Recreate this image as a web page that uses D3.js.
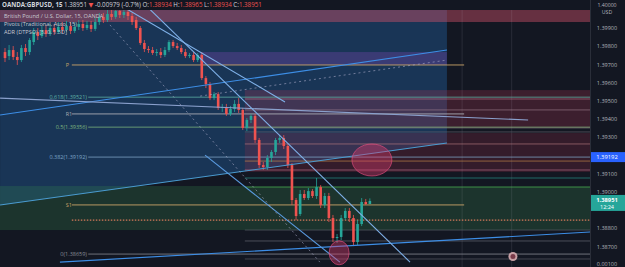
<!DOCTYPE html>
<html>
<meta charset="utf-8">
<script src="https://d3js.org/d3.v7.js"></script>
<style>
  body { margin: 0; background: #131722; }
  text { font-family: "Open Sans", "DejaVu Sans", sans-serif; }
</style>
<body>
<div id="my_dataviz"></div>
<script type="text/javascript">
// GBPUSD 15m candles
var opens = [1.39769,1.39747,1.39780,1.39742,1.39725,1.39791,1.39769,1.39824,1.39879,1.39857,
  1.39890,1.39868,1.39901,1.39879,1.39907,1.39890,1.39912,1.39885,1.39907,1.39923,
  1.39901,1.39918,1.39896,1.39934,1.39962,1.39945,1.39978,1.39962,1.39995,1.39973,
  1.39989,1.39967,1.39945,1.39901,1.39819,1.39786,1.39780,1.39764,1.39769,1.39753,
  1.39780,1.39824,1.39802,1.39791,1.39769,1.39747,1.39753,1.39725,1.39753,1.39626,
  1.39593,1.39516,1.39538,1.39462,1.39467,1.39429,1.39456,1.39484,1.39451,1.39352,
  1.39396,1.39418,1.39286,1.39148,1.39137,1.39187,1.39220,1.39286,1.39297,1.39253,
  1.39148,1.38956,1.38879,1.38989,1.38967,1.39005,1.38978,1.39027,1.38929,1.38978,
  1.38857,1.38747,1.38753,1.38857,1.38896,1.38857,1.38725,1.38824,1.38945,1.38934]
var highs = [1.39791,1.39808,1.39802,1.39769,1.39808,1.39813,1.39846,1.39901,1.39901,1.39912,
  1.39918,1.39923,1.39923,1.39934,1.39934,1.39940,1.39934,1.39929,1.39945,1.39945,
  1.39940,1.39940,1.39956,1.39984,1.39984,1.40000,1.40000,1.40011,1.40016,1.40011,
  1.40005,1.39984,1.39962,1.39912,1.39835,1.39802,1.39797,1.39786,1.39791,1.39797,
  1.39835,1.39835,1.39819,1.39808,1.39786,1.39764,1.39769,1.39764,1.39769,1.39637,
  1.39604,1.39549,1.39549,1.39484,1.39484,1.39473,1.39505,1.39516,1.39462,1.39407,
  1.39429,1.39429,1.39297,1.39165,1.39203,1.39231,1.39297,1.39313,1.39313,1.39264,
  1.39159,1.38967,1.39011,1.39011,1.39022,1.39016,1.39077,1.39038,1.38995,1.38995,
  1.38874,1.38769,1.38874,1.38912,1.38912,1.38874,1.38846,1.38967,1.38962,1.38965]
var lows = [1.39714,1.39725,1.39725,1.39698,1.39714,1.39747,1.39753,1.39808,1.39835,1.39846,
  1.39852,1.39857,1.39863,1.39868,1.39874,1.39879,1.39868,1.39874,1.39890,1.39885,
  1.39890,1.39879,1.39885,1.39918,1.39929,1.39934,1.39945,1.39951,1.39956,1.39956,
  1.39945,1.39918,1.39890,1.39808,1.39769,1.39764,1.39753,1.39747,1.39736,1.39742,
  1.39769,1.39791,1.39780,1.39758,1.39736,1.39736,1.39714,1.39714,1.39615,1.39571,
  1.39505,1.39505,1.39451,1.39440,1.39418,1.39418,1.39440,1.39434,1.39341,1.39335,
  1.39379,1.39269,1.39132,1.39121,1.39121,1.39165,1.39203,1.39269,1.39236,1.39132,
  1.38929,1.38846,1.38868,1.38956,1.38956,1.38967,1.38962,1.38912,1.38912,1.38835,
  1.38725,1.38720,1.38736,1.38846,1.38835,1.38703,1.38709,1.38813,1.38929,1.38934]
var closes = [1.39736,1.39780,1.39742,1.39725,1.39791,1.39769,1.39835,1.39879,1.39857,1.39890,
  1.39868,1.39901,1.39879,1.39907,1.39890,1.39912,1.39885,1.39907,1.39923,1.39901,
  1.39918,1.39896,1.39934,1.39962,1.39945,1.39978,1.39962,1.39995,1.39973,1.39989,
  1.39967,1.39934,1.39901,1.39819,1.39786,1.39780,1.39764,1.39769,1.39753,1.39780,
  1.39824,1.39802,1.39791,1.39769,1.39747,1.39753,1.39725,1.39753,1.39626,1.39593,
  1.39516,1.39538,1.39462,1.39467,1.39429,1.39456,1.39484,1.39451,1.39352,1.39396,
  1.39418,1.39286,1.39148,1.39137,1.39187,1.39220,1.39286,1.39297,1.39253,1.39148,
  1.38956,1.38868,1.38989,1.38967,1.39005,1.38978,1.39027,1.38929,1.38978,1.38857,
  1.38747,1.38753,1.38857,1.38896,1.38857,1.38725,1.38824,1.38945,1.38934,1.38951]

// price axis (1.389 and 1.392 sit under the price tags)
var priceTicks = [1.387,1.388,1.390,1.391,1.393,1.394,1.395,1.396,1.397,1.398,1.399]

// fib retracement
var fibLow = 1.38659, fibHigh = 1.40054
var fibRatios = [0.618, 0.5, 0.382, 0]

// pivots
var pivotNames = ["P", "R1", "S1"]
var pivotPrices = [1.39698, 1.39429, 1.38929]

// zones [idxFrom, idxTo, priceTop, priceBottom]
var zones = [
  [-2, 143, 1.40000, 1.39934],
  [47.6, 107.8, 1.39769, 1.39698],
  [58.5, 143, 1.39560, 1.39352],
  [58.5, 143, 1.39324, 1.39110],
  [-2, 143, 1.39033, 1.38791]
]
var zoneColors = ["rgba(205,80,105,0.45)", "rgba(130,70,180,0.32)", "rgba(170,55,80,0.28)", "rgba(150,45,70,0.25)", "rgba(55,140,80,0.25)"]

// other horizontal levels (right side)
var levelPrices = [1.39511, 1.39451, 1.39352, 1.39330, 1.39264, 1.39170, 1.39121, 1.39077, 1.39027, 1.38791, 1.38731, 1.38632]
var levelColors = ["#b87086","#9a7d8c","#8a7480","#6d6470","#b87a80","#c98a4a","#b8708a","#2a9d8f","#4caf50","#5d606b","#6b6e78","#5d606b"]

// trend lines [i0, p0, i1, p1]
var trendLines = [
  [-1.2, 1.39423, 107.8, 1.39780],
  [-1.2, 1.39516, 127.6, 1.39396],
  [-1.2, 1.38929, 107.8, 1.39269],
  [13.4, 1.38615, 142.7, 1.38780],
  [29.3, 1.40011, 68.3, 1.39495],
  [33, 1.40055, 98.8, 1.38615],
  [48.8, 1.39203, 81.7, 1.38615]
]
var trendColors = ["#3d8ee6", "#8aa0cc", "#4a9bd0", "#3d8ee6", "#7fb0e8", "#7fb0e8", "#5a9be0"]
var dashedLines = [
  [47.6, 1.39527, 107.8, 1.39725],
  [25.6, 1.39918, 76.8, 1.38615]
]

var width = 625, height = 267, plotRight = 590, plotTop = 10

var svg = d3.select("#my_dataviz").append("svg")
  .attr("width", width).attr("height", height)

var x = d3.scaleLinear().domain([0, 142.7]).range([5, 590])
var y = d3.scaleLinear().domain([1.38588, 1.40055]).range([267, 0])

svg.append("rect").attr("width", width).attr("height", height).attr("fill", "#131722")

svg.append("clipPath").attr("id", "plot")
  .append("rect").attr("x", 0).attr("y", plotTop).attr("width", plotRight).attr("height", height - plotTop)

var g = svg.append("g").attr("clip-path", "url(#plot)")

// blue channel fill
var chBottom = trendLines[2]
g.append("path")
  .attr("d", d3.line()([
    [x(chBottom[0]), y(1.40055)], [x(chBottom[2]), y(1.40055)],
    [x(chBottom[2]), y(chBottom[3])], [x(chBottom[0]), y(chBottom[1])]
  ]))
  .attr("fill", "rgba(35,100,165,0.4)")

g.selectAll(".zone").data(zones).enter().append("rect")
  .attr("x", d => x(d[0]))
  .attr("y", d => y(d[2]))
  .attr("width", d => x(d[1]) - x(d[0]))
  .attr("height", d => y(d[3]) - y(d[2]))
  .attr("fill", (d, i) => zoneColors[i])

// session separators
g.selectAll(".vsep").data([111.5, 123.6]).enter().append("line")
  .attr("x1", d => x(d)).attr("x2", d => x(d))
  .attr("y1", plotTop).attr("y2", height)
  .attr("stroke", "rgba(200,200,210,0.12)")

g.selectAll(".lvl").data(levelPrices).enter().append("line")
  .attr("x1", x(58.5)).attr("x2", plotRight)
  .attr("y1", d => y(d)).attr("y2", d => y(d))
  .attr("stroke", (d, i) => levelColors[i])
  .attr("stroke-width", 0.8)
  .attr("opacity", 0.8)

// fib levels
var fibColors = ["#5fb3a6", "#7fb87f", "#7fa6c8", "#8a8d96"]
fibRatios.forEach(function(r, i) {
  var p = fibLow + r * (fibHigh - fibLow)
  g.append("line")
    .attr("x1", x(20.3)).attr("x2", plotRight)
    .attr("y1", y(p)).attr("y2", y(p))
    .attr("stroke", fibColors[i]).attr("stroke-width", 0.9).attr("opacity", 0.85)
  g.append("text")
    .attr("x", x(20)).attr("y", y(p) + 2)
    .attr("text-anchor", "end")
    .attr("font-size", 5.5)
    .attr("fill", fibColors[i])
    .text(r + "(" + p.toFixed(5) + ")")
})

// pivots
var pivotColors = ["#c9a46a", "#a9abb3", "#c9a46a"]
pivotNames.forEach(function(n, i) {
  g.append("line")
    .attr("x1", x(16.3)).attr("x2", x(112))
    .attr("y1", y(pivotPrices[i])).attr("y2", y(pivotPrices[i]))
    .attr("stroke", pivotColors[i]).attr("stroke-width", 0.9)
  g.append("text")
    .attr("x", x(14.8)).attr("y", y(pivotPrices[i]) + 2)
    .attr("font-size", 5.5).attr("fill", pivotColors[i])
    .text(n)
})

// dotted level
g.append("line")
  .attr("x1", x(16.3)).attr("x2", plotRight)
  .attr("y1", y(1.38846)).attr("y2", y(1.38846))
  .attr("stroke", "#d4785a").attr("stroke-width", 1.2)
  .attr("stroke-dasharray", "1.5,1.5")

// candles
var idx = d3.range(opens.length)
var candleW = 2.6
var up = "#26a69a", down = "#ef5350"
g.selectAll(".wick").data(idx).enter().append("line")
  .attr("x1", i => x(i)).attr("x2", i => x(i))
  .attr("y1", i => y(highs[i])).attr("y2", i => y(lows[i]))
  .attr("stroke", i => closes[i] >= opens[i] ? up : down)
  .attr("stroke-width", 0.8)
g.selectAll(".body").data(idx).enter().append("rect")
  .attr("x", i => x(i) - candleW / 2)
  .attr("y", i => y(Math.max(opens[i], closes[i])))
  .attr("width", candleW)
  .attr("height", i => Math.max(1, Math.abs(y(opens[i]) - y(closes[i]))))
  .attr("fill", i => closes[i] >= opens[i] ? up : down)

// trend lines
g.selectAll(".trend").data(trendLines).enter().append("line")
  .attr("x1", d => x(d[0])).attr("y1", d => y(d[1]))
  .attr("x2", d => x(d[2])).attr("y2", d => y(d[3]))
  .attr("stroke", (d, i) => trendColors[i])
  .attr("stroke-width", 1.1)
g.selectAll(".dash").data(dashedLines).enter().append("line")
  .attr("x1", d => x(d[0])).attr("y1", d => y(d[1]))
  .attr("x2", d => x(d[2])).attr("y2", d => y(d[3]))
  .attr("stroke", "rgba(170,170,200,0.6)")
  .attr("stroke-width", 1)
  .attr("stroke-dasharray", "2,3")

// highlight ellipses
var ellipses = [[89.5, 1.39176, 20, 16], [81.5, 1.38666, 10, 12]]
g.selectAll(".ell").data(ellipses).enter().append("ellipse")
  .attr("cx", d => x(d[0])).attr("cy", d => y(d[1]))
  .attr("rx", d => d[2]).attr("ry", d => d[3])
  .attr("fill", "rgba(220,60,110,0.4)")
  .attr("stroke", "rgba(235,80,130,0.6)")

// little avatar icon
g.append("circle").attr("cx", x(123.9)).attr("cy", y(1.38646)).attr("r", 4.5).attr("fill", "#c9a1a6")
g.append("circle").attr("cx", x(123.9)).attr("cy", y(1.38646)).attr("r", 2.5).attr("fill", "#7a3b4a")

// header
svg.append("rect").attr("width", width).attr("height", plotTop).attr("fill", "#131722")
var hdr = svg.append("text").attr("x", 2).attr("y", 7).attr("font-size", 6.2).attr("fill", "#d1d4dc")
hdr.append("tspan").attr("font-weight", "bold").text("OANDA:GBPUSD, 15 ")
hdr.append("tspan").text("1.38951 ")
hdr.append("tspan").attr("fill", "#ef5350").text("▼ ")
hdr.append("tspan").text("-0.00979 (-0.7%)  O:")
hdr.append("tspan").attr("fill", "#ef5350").text("1.38934")
hdr.append("tspan").text(" H:")
hdr.append("tspan").attr("fill", "#ef5350").text("1.38965")
hdr.append("tspan").text(" L:")
hdr.append("tspan").attr("fill", "#ef5350").text("1.38934")
hdr.append("tspan").text(" C:")
hdr.append("tspan").attr("fill", "#ef5350").text("1.38951")

var legend = ["British Pound / U.S. Dollar, 15, OANDA", "Pivots (Traditional, Auto, 15)", "ADR (DTPSO) [5, 0, 1.5D]"]
svg.selectAll(".leg").data(legend).enter().append("text")
  .attr("x", 4).attr("y", (d, i) => 18 + i * 8)
  .attr("font-size", 5.6).attr("fill", "#c8cad2")
  .text(d => d)

// right price axis
var axisG = svg.append("g")
axisG.append("rect").attr("x", plotRight).attr("y", 0).attr("width", width - plotRight).attr("height", height).attr("fill", "#131722")
axisG.append("line").attr("x1", plotRight + 0.5).attr("x2", plotRight + 0.5).attr("y1", 0).attr("y2", height).attr("stroke", "#2a2e39")
axisG.selectAll(".tick").data(priceTicks).enter().append("text")
  .attr("x", 607).attr("y", d => y(d) + 2)
  .attr("text-anchor", "middle")
  .attr("font-size", 5.5).attr("fill", "#b2b5be")
  .text(d => d.toFixed(5))
// top label with currency under it
axisG.append("text").attr("x", 607).attr("y", y(1.400) - 3).attr("text-anchor", "middle").attr("font-size", 5.2).attr("fill", "#b2b5be").text("1.40000")
axisG.append("text").attr("x", 607).attr("y", y(1.400) + 4).attr("text-anchor", "middle").attr("font-size", 5.2).attr("fill", "#b2b5be").text("USD")
axisG.append("text").attr("x", 607).attr("y", 266).attr("text-anchor", "middle").attr("font-size", 5.5).attr("fill", "#b2b5be").text("0.00100")

// price tags
var fib382 = fibLow + 0.382 * (fibHigh - fibLow)
axisG.append("rect").attr("x", plotRight + 1).attr("y", y(fib382) - 5).attr("width", 34).attr("height", 10).attr("fill", "#2962ff")
axisG.append("text").attr("x", 607).attr("y", y(fib382) + 2).attr("text-anchor", "middle").attr("font-size", 5.8).attr("fill", "#fff").text(fib382.toFixed(5))

var last = closes[closes.length - 1]
axisG.append("rect").attr("x", plotRight + 1).attr("y", y(last) - 6).attr("width", 34).attr("height", 16).attr("fill", "#26a69a")
axisG.append("text").attr("x", 607).attr("y", y(last) + 1.5).attr("text-anchor", "middle").attr("font-size", 5.8).attr("font-weight", "bold").attr("fill", "#fff").text(last.toFixed(5))
axisG.append("text").attr("x", 607).attr("y", y(last) + 8).attr("text-anchor", "middle").attr("font-size", 5.5).attr("fill", "#fff").text("12:24")
</script>
</body>
</html>
